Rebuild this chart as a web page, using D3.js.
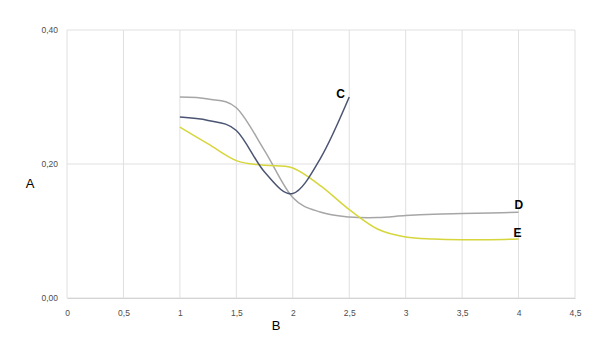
<!DOCTYPE html>
<html>
<head>
<meta charset="utf-8">
<script src="https://cdn.jsdelivr.net/npm/d3@7"></script>
<style>
  body { margin: 0; background: #fff; }
  text { font-family: "Liberation Sans", Arial, sans-serif; }
</style>
</head>
<body>
<div id="chart"></div>
<script>
// values
var xTicks = [0, 0.5, 1, 1.5, 2, 2.5, 3, 3.5, 4, 4.5];
var yTicks = [0, 0.2, 0.4];

var xC = [1, 1.25, 1.5, 1.75, 2, 2.25, 2.5];
var valuesC = [0.270, 0.265, 0.250, 0.188, 0.156, 0.210, 0.300];

var xD = [1, 1.25, 1.5, 1.75, 2, 2.25, 2.5, 2.75, 3, 3.25, 3.5, 3.75, 4];
var valuesD = [0.300, 0.297, 0.284, 0.220, 0.150, 0.128, 0.121, 0.120, 0.123, 0.125, 0.126, 0.127, 0.128];

var xE = [1, 1.25, 1.5, 1.75, 2, 2.25, 2.5, 2.75, 3, 3.25, 3.5, 3.75, 4];
var valuesE = [0.255, 0.230, 0.205, 0.198, 0.194, 0.167, 0.132, 0.103, 0.091, 0.088, 0.087, 0.087, 0.088];

var svgWidth = 608;
var svgHeight = 350;

var margin = { top: 30, right: 33, bottom: 52, left: 67 };
var width = svgWidth - margin.left - margin.right;
var height = svgHeight - margin.top - margin.bottom;

var svg = d3.select("#chart")
  .append("svg")
  .attr("width", svgWidth)
  .attr("height", svgHeight);

var chartGroup = svg.append("g")
  .attr("transform", `translate(${margin.left}, ${margin.top})`);

var x = d3.scaleLinear().domain([0, 4.5]).range([0, width]);
var y = d3.scaleLinear().domain([0, 0.4]).range([height, 0]);

var fmt = d => d3.format(".2f")(d).replace(".", ",");
var fmtX = d => String(d).replace(".", ",");

// grid lines
chartGroup.append("g")
  .selectAll("line")
  .data(xTicks)
  .enter()
  .append("line")
  .attr("x1", d => x(d)).attr("x2", d => x(d))
  .attr("y1", 0).attr("y2", height)
  .attr("stroke", "#e0e0e0")
  .attr("stroke-width", 1);

chartGroup.append("g")
  .selectAll("line")
  .data(yTicks)
  .enter()
  .append("line")
  .attr("x1", 0).attr("x2", width)
  .attr("y1", d => y(d)).attr("y2", d => y(d))
  .attr("stroke", "#e0e0e0")
  .attr("stroke-width", 1);

// axes
var bottomAxis = d3.axisBottom(x).tickValues(xTicks).tickFormat(fmtX).tickSize(0).tickPadding(12);
var leftAxis = d3.axisLeft(y).tickValues(yTicks).tickFormat(fmt).tickSize(0).tickPadding(9);

var xAxis = chartGroup.append("g")
  .attr("transform", `translate(0, ${height})`)
  .call(bottomAxis);
var yAxis = chartGroup.append("g").call(leftAxis);

[xAxis, yAxis].forEach(function(a) {
  a.select(".domain").attr("stroke", "#d4d4d4");
  a.selectAll("text")
    .attr("fill", "#4d4d4d")
    .attr("font-size", "8.5px")
    .style("font-family", "Liberation Sans, Arial, sans-serif");
});
yAxis.select(".domain").remove();

// lines (smoothed like the spreadsheet original)
var line = d3.line()
  .x(d => x(d[0]))
  .y(d => y(d[1]))
  .curve(d3.curveCardinal.tension(0));

var series = [
  { name: "D", xs: xD, vals: valuesD, color: "#a6a6a6" },
  { name: "E", xs: xE, vals: valuesE, color: "#d6d63c" },
  { name: "C", xs: xC, vals: valuesC, color: "#4b5573" }
];

series.forEach(function(s) {
  var pts = s.xs.map((v, i) => [v, s.vals[i]]);
  chartGroup.append("path")
    .datum(pts)
    .attr("fill", "none")
    .attr("stroke", s.color)
    .attr("stroke-width", 1.5)
    .attr("d", line);
});

// series labels
var labels = [
  { text: "C", xv: 2.5, yv: 0.30, dx: -13, dy: 1 },
  { text: "D", xv: 4, yv: 0.128, dx: -4, dy: -3 },
  { text: "E", xv: 4, yv: 0.088, dx: -5, dy: -2 }
];
chartGroup.selectAll(".seriesLabel")
  .data(labels)
  .enter()
  .append("text")
  .attr("x", d => x(d.xv) + d.dx)
  .attr("y", d => y(d.yv) + d.dy)
  .text(d => d.text)
  .attr("font-size", "12px")
  .attr("font-weight", "bold")
  .attr("fill", "#000");

// axis titles
svg.append("text")
  .attr("x", 276)
  .attr("y", 330)
  .attr("text-anchor", "middle")
  .attr("font-size", "13px")
  .attr("fill", "#000")
  .text("B");

svg.append("text")
  .attr("x", 30)
  .attr("y", 188)
  .attr("text-anchor", "middle")
  .attr("font-size", "13px")
  .attr("fill", "#000")
  .text("A");
</script>
</body>
</html>
